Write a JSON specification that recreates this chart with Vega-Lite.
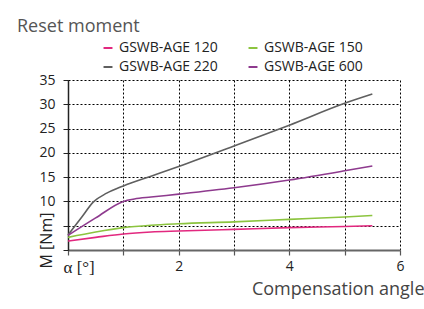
{
  "$schema": "https://vega.github.io/schema/vega-lite/v6.json",
  "width": 332,
  "height": 170,
  "autosize": "none",
  "padding": {"left": 68, "top": 80, "right": 24, "bottom": 59},
  "background": "white",
  "title": {"text": "Reset moment", "anchor": "start", "frame": "group", "dx": -51, "dy": -5, "fontSize": 18, "font": "Open Sans", "fontWeight": "normal", "color": "#555555", "offset": 0},
  "config": {"view": {"stroke": null}, "font": "Open Sans"},
  "data": {"values": [
    {"series": "GSWB-AGE 120", "x": 0, "y": 1.85},
    {"series": "GSWB-AGE 120", "x": 0.5, "y": 2.6},
    {"series": "GSWB-AGE 120", "x": 1, "y": 3.3},
    {"series": "GSWB-AGE 120", "x": 1.5, "y": 3.7},
    {"series": "GSWB-AGE 120", "x": 2, "y": 3.9},
    {"series": "GSWB-AGE 120", "x": 3, "y": 4.25},
    {"series": "GSWB-AGE 120", "x": 4, "y": 4.6},
    {"series": "GSWB-AGE 120", "x": 5, "y": 4.85},
    {"series": "GSWB-AGE 120", "x": 5.5, "y": 5.0},
    {"series": "GSWB-AGE 150", "x": 0, "y": 2.6},
    {"series": "GSWB-AGE 150", "x": 0.5, "y": 3.7},
    {"series": "GSWB-AGE 150", "x": 1, "y": 4.6},
    {"series": "GSWB-AGE 150", "x": 1.5, "y": 5.1},
    {"series": "GSWB-AGE 150", "x": 2, "y": 5.4},
    {"series": "GSWB-AGE 150", "x": 3, "y": 5.8},
    {"series": "GSWB-AGE 150", "x": 4, "y": 6.3},
    {"series": "GSWB-AGE 150", "x": 5, "y": 6.8},
    {"series": "GSWB-AGE 150", "x": 5.5, "y": 7.1},
    {"series": "GSWB-AGE 220", "x": 0, "y": 3.1},
    {"series": "GSWB-AGE 220", "x": 0.25, "y": 6.8},
    {"series": "GSWB-AGE 220", "x": 0.46, "y": 9.9},
    {"series": "GSWB-AGE 220", "x": 0.7, "y": 11.7},
    {"series": "GSWB-AGE 220", "x": 1, "y": 13.2},
    {"series": "GSWB-AGE 220", "x": 1.5, "y": 15.2},
    {"series": "GSWB-AGE 220", "x": 2, "y": 17.2},
    {"series": "GSWB-AGE 220", "x": 3, "y": 21.4},
    {"series": "GSWB-AGE 220", "x": 4, "y": 25.7},
    {"series": "GSWB-AGE 220", "x": 5, "y": 30.2},
    {"series": "GSWB-AGE 220", "x": 5.5, "y": 32.1},
    {"series": "GSWB-AGE 600", "x": 0, "y": 3.0},
    {"series": "GSWB-AGE 600", "x": 0.5, "y": 6.6},
    {"series": "GSWB-AGE 600", "x": 1, "y": 10.0},
    {"series": "GSWB-AGE 600", "x": 1.2, "y": 10.5},
    {"series": "GSWB-AGE 600", "x": 1.5, "y": 10.9},
    {"series": "GSWB-AGE 600", "x": 2, "y": 11.5},
    {"series": "GSWB-AGE 600", "x": 3, "y": 12.8},
    {"series": "GSWB-AGE 600", "x": 4, "y": 14.4},
    {"series": "GSWB-AGE 600", "x": 5, "y": 16.3},
    {"series": "GSWB-AGE 600", "x": 5.5, "y": 17.3}
  ]},
  "mark": {"type": "line", "interpolate": "monotone", "strokeWidth": 1.6},
  "encoding": {
    "x": {"field": "x", "type": "quantitative",
      "scale": {"domain": [0, 6], "nice": false, "zero": false},
      "axis": {"title": "Compensation angle", "values": [0, 1, 2, 3, 4, 5, 6],
        "labelExpr": "datum.value == 0 ? 'α [°]' : (datum.value % 2 == 0 ? datum.label : '')",
        "labelFont": {"condition": {"test": "datum.value == 0", "value": "Liberation Serif"}, "value": "Open Sans"},
        "labelFontSize": {"condition": {"test": "datum.value == 0", "value": 17}, "value": 14},
        "labelAlign": {"condition": {"test": "datum.value == 0", "value": "left"}, "value": "center"},
        "labelOffset": {"condition": {"test": "datum.value == 0", "value": -5}, "value": 0},
        "labelColor": "#222222", "labelPadding": 4, "labelFlush": false, "labelOverlap": false,
        "tickSize": 5, "tickColor": "#555555", "tickWidth": 1.2,
        "domainColor": "#666666", "domainWidth": 2,
        "grid": true, "gridColor": "#000000", "gridDash": [2, 2], "gridWidth": 1,
        "titleFont": "Open Sans", "titleFontSize": 18, "titleFontWeight": "normal", "titleColor": "#444444",
        "titleAnchor": "end", "titleAlign": "right", "titleX": 356, "titleY": 44, "titleBaseline": "alphabetic"}},
    "y": {"field": "y", "type": "quantitative",
      "scale": {"domain": [0, 35], "nice": false},
      "axis": {"title": "M [Nm]", "values": [0, 5, 10, 15, 20, 25, 30, 35],
        "labelExpr": "datum.value >= 10 ? datum.label : ''",
        "labelFontSize": 14, "labelColor": "#222222", "labelPadding": 8,
        "tickSize": 5, "tickColor": "#222222",
        "domainColor": "#222222", "domainWidth": 1.5,
        "grid": true, "gridColor": "#000000", "gridDash": [2, 2], "gridWidth": 1,
        "titleFont": "Open Sans", "titleFontSize": 16, "titleFontWeight": "normal", "titleColor": "#222222",
        "titleAngle": -90, "titleAlign": "center", "titleBaseline": "middle", "titleX": -22, "titleY": 160}},
    "color": {"field": "series", "type": "nominal",
      "scale": {"domain": ["GSWB-AGE 120", "GSWB-AGE 150", "GSWB-AGE 220", "GSWB-AGE 600"],
        "range": ["#e2287f", "#8cc43f", "#5f5f5f", "#8e3a8e"]},
      "legend": {"title": null, "orient": "none", "direction": "horizontal", "legendX": 33, "legendY": -39, "columns": 2,
        "columnPadding": 26, "rowPadding": 5, "symbolType": "stroke", "symbolSize": 80, "symbolStrokeWidth": 2,
        "labelFontSize": 14, "labelColor": "#222222", "labelOffset": 4, "labelFont": "Open Sans"}}
  }
}
